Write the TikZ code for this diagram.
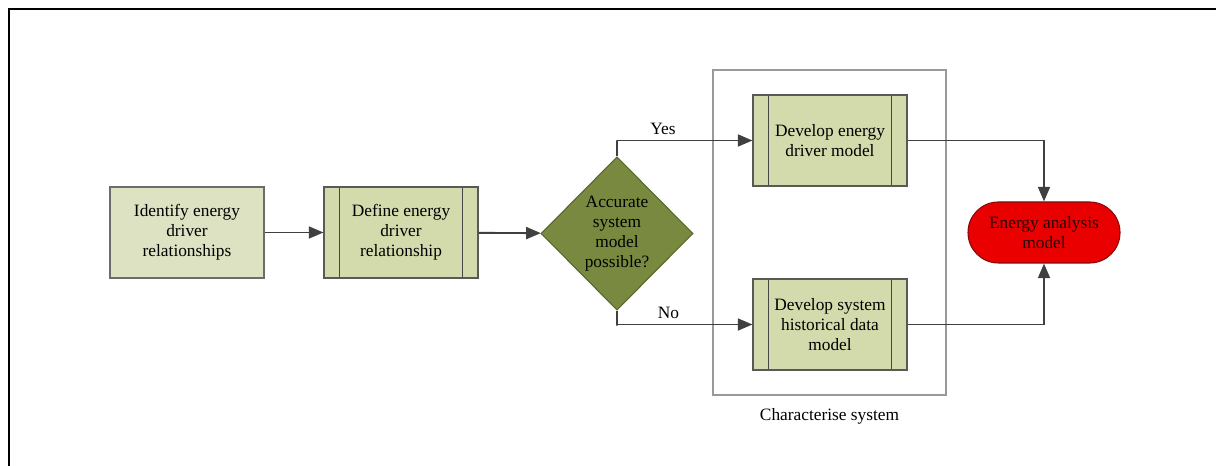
\documentclass[tikz,border=0pt]{standalone}
\usepackage{fontspec}
\setmainfont{Liberation Serif}
\usetikzlibrary{shapes.geometric, positioning, arrows.meta}

\definecolor{vertclair}{RGB}{221,226,195}
\definecolor{vertmoyen}{RGB}{211,218,172}
\definecolor{olive}{RGB}{121,138,64}
\definecolor{olivefonce}{RGB}{88,102,44}
\definecolor{rouge}{RGB}{232,0,0}
\definecolor{rougefonce}{RGB}{130,10,10}
\definecolor{trait}{RGB}{64,64,64}

\begin{document}
\begin{tikzpicture}[
    x=0.75pt, y=-0.75pt,
    % Styles des noeuds
    process/.style={rectangle, draw=gray!85!black, fill=vertclair, line width=0.8pt,
                    minimum width=115.5pt, minimum height=68.25pt, align=center,
                    font=\fontsize{13}{15}\selectfont},
    subprocess/.style={process, fill=vertmoyen, draw=gray!70!black,
                       path picture={
                         \draw[gray!55!black, line width=0.8pt]
                           ([xshift=11.5pt]path picture bounding box.north west) --
                           ([xshift=11.5pt]path picture bounding box.south west)
                           ([xshift=-11.5pt]path picture bounding box.north east) --
                           ([xshift=-11.5pt]path picture bounding box.south east);}},
    decision/.style={diamond, draw=olivefonce, fill=olive, line width=0.8pt, inner sep=0pt,
                     minimum width=114pt, minimum height=115pt, align=center,
                     font=\fontsize{13}{15}\selectfont},
    terminal/.style={rectangle, rounded corners=22.8pt, draw=rougefonce, line width=0.8pt,
                     top color=rouge, bottom color=rouge!85!red, text=red!15!black,
                     minimum width=114pt, minimum height=45.75pt, align=center,
                     font=\fontsize{13}{15}\selectfont},
    container/.style={rectangle, draw=gray!80, line width=0.8pt,
                      minimum width=174.75pt, minimum height=243.75pt},
    % Style des fleches
    arrow/.style={-{Triangle[length=11pt, width=9pt]}, line width=1.4pt, color=trait},
    % Style des libelles
    label/.style={text=black, font=\fontsize{13}{15}\selectfont}
]
\useasboundingbox (0,0) rectangle (1216,466);

% Cadre
\draw[line width=2pt] (1216,9) -| (9,466);

% ==========================================
% CARACTERISATION DU SYSTEME
% ==========================================
\node[container] (charac) at (829.5,232.5) {};
\node[label, below=6pt of charac] (characlabel) {Characterise system};

% Etapes
\node[process] (identify) at (187,232.5) {Identify energy\\driver\\relationships};
\node[subprocess] (define) at (401,232.5) {Define energy\\driver\\relationship};
\node[decision] (accurate) at (617,233.5) {Accurate\\system\\model\\possible?};
\node[subprocess] (driver) at (830,140.5) {Develop energy\\driver model};
\node[subprocess] (history) at (830,324.5) {Develop system\\historical data\\model};
\node[terminal] (analysis) at (1044,232.5) {Energy analysis\\model};

% Fleches
\draw[arrow] (identify) -- (define);
\draw[arrow] (define) -- (accurate);
\draw[arrow] (accurate.north) -- ++(0,-16) |- (driver.west)
    node[label, above, pos=0.67] {Yes};
\draw[arrow] (accurate.south) -- ++(0,15) |- (history.west)
    node[label, above, pos=0.69] {No};
\draw[arrow] (driver.east) -| (analysis.north);
\draw[arrow] (history.east) -| (analysis.south);

\end{tikzpicture}
\end{document}
